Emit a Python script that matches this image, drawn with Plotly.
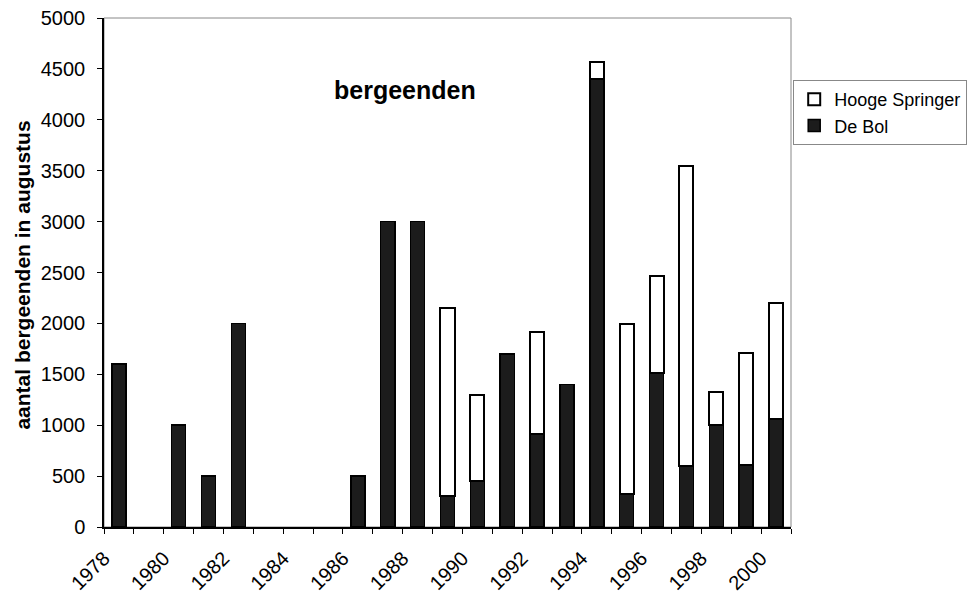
import plotly.graph_objects as go

# Data
years = list(range(1978, 2001))
de_bol = [1600, None, 1000, 500, 2000, None, None, None, 500, 3000, 3000,
          300, 450, 1700, 910, 1400, 4400, 320, 1510, 600, 1000, 610, 1060]
hooge_springer = [None, None, None, None, None, None, None, None, None, None, None,
                  1850, 850, None, 1010, None, 170, 1670, 960, 2950, 330, 1100, 1140]
tick_labels = [str(y) for y in range(1978, 2001, 2)]
tick_positions = [y - 0.5 for y in range(1978, 2001, 2)]

fig = go.Figure()

fig.add_trace(go.Bar(
    x=years,
    y=de_bol,
    name='De Bol',
    marker=dict(color='#1c1c1c', line=dict(color='black', width=1.5))
))

fig.add_trace(go.Bar(
    x=years,
    y=hooge_springer,
    name='Hooge Springer',
    marker=dict(color='white', line=dict(color='black', width=2))
))

# page body adds an 8px offset, so the figure is sized to fit the window
fig.update_layout(
    barmode='stack',
    bargap=0.53,
    width=967,
    height=585,
    plot_bgcolor='white',
    paper_bgcolor='white',
    font=dict(family='Arial, Liberation Sans, sans-serif', size=20, color='black'),
    margin=dict(l=96, r=184, t=10, b=66),
    legend=dict(
        xref='container', yref='container',
        x=0.812, y=0.877,
        xanchor='left', yanchor='top',
        traceorder='reversed',
        bordercolor='#888888', borderwidth=1,
        bgcolor='white',
        font=dict(size=18),
        itemwidth=30
    ),
    shapes=[
        dict(type='rect', xref='paper', yref='paper', x0=0, y0=0, x1=1, y1=1,
             line=dict(color='#888888', width=1), layer='below')
    ],
    annotations=[
        dict(text='<b>bergeenden</b>', xref='paper', yref='paper',
             x=0.438, y=0.89, showarrow=False,
             font=dict(size=25, color='black')),
        dict(text='<b>aantal bergeenden in augustus</b>', xref='paper', yref='paper',
             x=-0.12, y=0.495, textangle=-90, showarrow=False,
             xanchor='center', yanchor='middle',
             font=dict(size=21, color='black'))
    ]
)

fig.update_xaxes(
    range=[1977.5, 2000.5],
    tickmode='array',
    tickvals=tick_positions,
    ticktext=tick_labels,
    tickangle=-45,
    tickfont=dict(size=20),
    ticks='outside',
    ticklen=5,
    tickcolor='black',
    ticklabelstandoff=5,
    ticklabeloverflow='allow',
    minor=dict(dtick=1, tick0=1977.5, ticks='outside', ticklen=5, tickcolor='black'),
    showline=True,
    linecolor='black',
    linewidth=1.5,
    showgrid=False,
    zeroline=False,
    automargin=False
)

fig.update_yaxes(
    range=[0, 5000],
    dtick=500,
    ticks='outside',
    ticklen=5,
    tickcolor='black',
    ticklabelstandoff=8,
    ticklabeloverflow='allow',
    showline=True,
    linecolor='black',
    linewidth=1.5,
    showgrid=False,
    zeroline=False,
    automargin=False
)

fig.write_html('out.html')
